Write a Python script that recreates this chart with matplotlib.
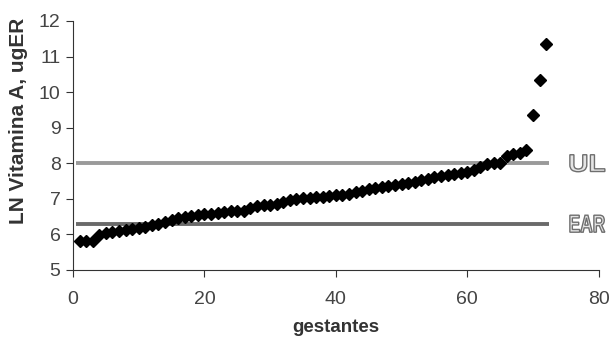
import matplotlib.pyplot as plt
from matplotlib.textpath import TextPath
from matplotlib.font_manager import FontProperties
from matplotlib.patches import PathPatch
from matplotlib.transforms import Affine2D

# gestantes (ordenadas) e LN da ingestão de vitamina A
gestantes = list(range(1, 73))
ln_vit_a = [5.80, 5.80, 5.82, 5.98, 6.04, 6.06, 6.09, 6.12, 6.15, 6.19,
            6.22, 6.25, 6.30, 6.36, 6.40, 6.45, 6.50, 6.53, 6.55, 6.57,
            6.58, 6.60, 6.64, 6.65, 6.65, 6.67, 6.75, 6.81, 6.82, 6.83,
            6.85, 6.90, 6.96, 7.00, 7.02, 7.03, 7.04, 7.05, 7.08, 7.10,
            7.12, 7.14, 7.18, 7.22, 7.27, 7.30, 7.33, 7.36, 7.40, 7.42,
            7.45, 7.48, 7.52, 7.57, 7.62, 7.65, 7.67, 7.70, 7.72, 7.75,
            7.80, 7.90, 7.98, 8.00, 8.00, 8.20, 8.25, 8.30, 8.36, 9.35,
            10.35, 11.35]

# limites de referência
ul = 8.0
ear = 6.3
ref_x = [0.5, 72.5]

plt.rcParams['font.family'] = ['Liberation Sans', 'DejaVu Sans']

fig = plt.figure(figsize=(6.11, 3.37), dpi=100)
ax = fig.add_axes([0.1195, 0.199, 0.8605, 0.7387])

ax.plot(ref_x, [ul, ul], color="#9a9a9a", lw=2.8, solid_capstyle="butt", zorder=1)
ax.plot(ref_x, [ear, ear], color="#6a6a6a", lw=2.8, solid_capstyle="butt", zorder=1)
ax.plot(gestantes, ln_vit_a, linestyle="none", marker="D", ms=6,
        color="black", zorder=3)

ax.set_xlim(0, 80)
ax.set_ylim(5, 12)
ax.set_xticks([0, 20, 40, 60, 80])
ax.set_yticks(range(5, 13))
ax.spines["top"].set_visible(False)
ax.spines["right"].set_visible(False)
ax.spines["left"].set_color("#333333")
ax.spines["bottom"].set_color("#333333")
ax.tick_params(labelsize=14, length=5, color="#333333", labelcolor="#444444", pad=4)
ax.tick_params(axis="x", pad=10)

ax.set_xlabel("gestantes", fontsize=13.5, fontweight="bold", color="#333333", labelpad=8)
ax.set_ylabel("LN Vitamina A, ugER", fontsize=15, fontweight="bold", color="#333333")
ax.yaxis.set_label_coords(-0.086, 0.60)

# rótulos vazados UL / EAR, esticados para caixa fixa (em pixels)
fp = FontProperties(family="Liberation Sans", weight="bold")
box_w, box_h = 35, 17
for y, txt in [(ul, "UL"), (ear, "EAR")]:
    tp = TextPath((0, 0), txt, size=20, prop=fp)
    ext = tp.get_extents()
    x0, yc = ax.transData.transform((75.6, y))
    tr = (Affine2D().translate(-ext.x0, -ext.y0)
          .scale(box_w / ext.width, box_h / ext.height)
          .translate(x0, yc - box_h / 2))
    ax.add_artist(PathPatch(tp, transform=tr, facecolor="#e4e4e4",
                            edgecolor="#6e6e6e", lw=1.0, clip_on=False))

fig.savefig("out.png", dpi=100)
